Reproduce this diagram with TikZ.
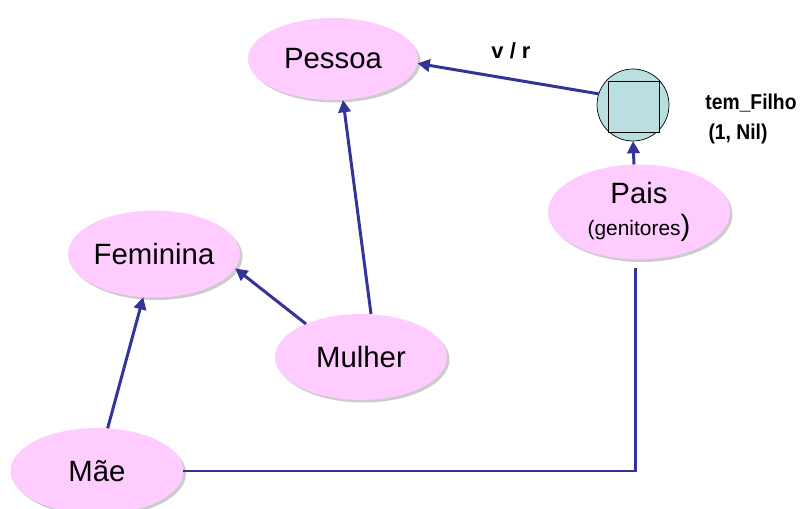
\documentclass[tikz,border=0pt]{standalone}
\usepackage{fontspec}
\setmainfont{Liberation Sans}
\newfontfamily\estreita[FakeStretch=0.9]{Liberation Sans}
\usetikzlibrary{shapes.geometric,arrows.meta,shadows}

\definecolor{rosa}{HTML}{FFCCFF}
\definecolor{azul}{HTML}{333399}
\definecolor{ciano}{HTML}{B9DFE0}

\tikzset{
  conceito/.style={ellipse, fill=rosa, inner sep=0pt, outer sep=0pt,
    drop shadow={shadow xshift=0.05cm, shadow yshift=-0.05cm, fill=black!40},
    font=\fontsize{16.7}{19}\selectfont},
  liga/.style={draw=azul, line width=1.7pt},
  seta/.style={liga, -{Triangle[length=7pt,width=7pt]}},
  rotulo/.style={font=\estreita\fontsize{12.2}{14}\selectfont\bfseries}
}

\begin{document}
\begin{tikzpicture}[x=0.02cm, y=-0.02cm]

  \useasboundingbox (0,0) rectangle (801,509);

  % conceitos
  \node[conceito, minimum width=3.4cm, minimum height=1.64cm] (pessoa) at (333,59) {Pessoa};
  \node[conceito, minimum width=3.44cm, minimum height=1.74cm] (feminina) at (154,254) {Feminina};
  \node[conceito, minimum width=3.44cm, minimum height=1.72cm] (mulher) at (361,357) {Mulher};
  \node[conceito, minimum width=3.46cm, minimum height=1.72cm] (mae) at (97,471) {Mãe};
  \node[conceito, minimum width=3.64cm, minimum height=1.9cm, align=center] (pais) at (639,212)
    {Pais\\[-1pt]{\fontsize{11.9}{14}\selectfont(genitores}{\fontsize{16.7}{14}\selectfont)}};

  % relacao
  \node[circle, draw=black, fill=ciano, minimum size=1.44cm, inner sep=0pt, outer sep=0pt] (filho) at (633,105) {};
  \node[draw=black, fill=ciano, minimum size=1.02cm, inner sep=0pt] (quad) at (633.5,107) {};

  \node[rotulo, font=\fontsize{12.5}{14}\selectfont\bfseries] (vr) at (511,51) {v / r};
  \node[rotulo] (tem) at (751,103) {tem\_Filho};
  \node[rotulo] (nil) at (738,134) {(1, Nil)};

  \coordinate (paisfim) at (635,268);

  % ligacoes
  \draw[seta] (filho.162) -- (pessoa.-3);
  \draw[seta] ([xshift=-0.1cm]pais.north) -- (filho.south);
  \draw[seta] ([xshift=0.2cm]mulher.north) -- ([xshift=0.2cm]pessoa.south);
  \draw[seta] (mulher.149) -- (feminina.-10);
  \draw[seta] (mae.76) -- (feminina.-104);
  \draw[liga] (mae.east) -| (paisfim);

\end{tikzpicture}
\end{document}
